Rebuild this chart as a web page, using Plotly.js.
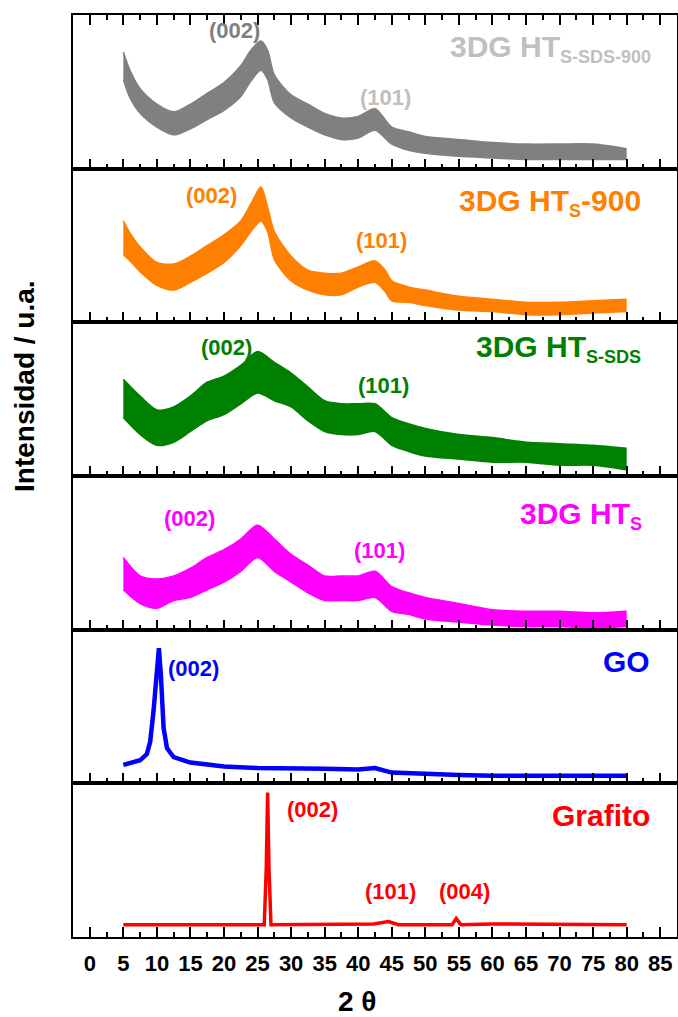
<!DOCTYPE html>
<html><head><meta charset="utf-8">
<script src="https://cdn.plot.ly/plotly-3.0.1.min.js"></script>
<style>html,body{margin:0;padding:0;background:#fff}</style>
</head><body><div id="chart" style="width:678px;height:1017px"></div>
<script>
// ---- Data (2θ in degrees, intensity in arbitrary units per panel, 0-100) ----
const tickVals = [0,5,10,15,20,25,30,35,40,45,50,55,60,65,70,75,80,85];

// 3DG HT S-SDS-900 (gray) : noisy band, lower / upper envelope
const graySdsX  = [5,6,7.5,10,12.5,15,17.5,20,22.5,24,25.5,26.5,27.5,30,32.5,35,37.5,40,42.5,45,47.5,50,55,60,65,70,75,80];
const graySdsLo = [58,46,36,27,22,26,32,38,47,57,64,58,43,33,27,22,19,20,25,16,12,10,8,7,6,6,6,6];
const graySdsHi = [76,64,52,42,37,42,49,56,67,77,83,77,61,48,42,36,33,34,39,27,24,21,19,17,16,16,16,13];

// 3DG HT S-900 (orange)
const orangeX  = [5,6,7.5,10,12.5,15,17.5,20,22.5,24,25.5,26.5,27.5,30,32.5,35,37.5,40,42.5,44,45,47.5,50,55,60,65,70,75,80];
const orangeLo = [44,40,33,24,21,26,32,39,50,59,66,59,41,27,21,18,18,23,26,20,14,13,11,8,7,5,5,6,7];
const orangeHi = [66,58,49,39,38,43,50,57,66,77,88,75,59,43,34,32,32,36,40,34,27,23,21,17,15,13,13,14,15];

// 3DG HT S-SDS (green)
const greenX  = [5,7.5,10,12.5,15,17.5,20,22.5,25,27.5,30,32.5,35,37.5,40,42.5,45,47.5,50,55,60,65,70,75,80];
const greenLo = [38,27,20,22,29,36,40,47,54,49,45,36,29,27,27,29,20,16,13,11,9,9,7,7,4];
const greenHi = [63,52,43,45,52,61,65,72,81,74,67,58,49,47,47,47,38,34,31,27,25,22,21,20,18];

// 3DG HT S (magenta)
const magentaX  = [5,7.5,10,12.5,15,17.5,20,22.5,25,27.5,30,32.5,35,37.5,40,42.5,45,47.5,50,55,60,65,70,75,80];
const magentaLo = [26,17,14,19,21,26,31,38,47,38,31,24,19,19,19,21,12,10,7,5,3,2,2,1,2];
const magentaHi = [47,35,33,35,40,47,52,59,68,59,49,42,35,35,35,38,28,24,21,17,13,12,12,11,12];

// GO (blue)
const goX = [5,7.5,8.5,9,9.5,10,10.3,10.6,11,11.5,12.5,15,20,25,30,35,40,42.5,45,50,55,60,70,80];
const goY = [12,15,19,27,47,72,88,70,36,23,17,13.5,11,10,10,9.5,9,10,7,6,5.5,5,5,5];

// Grafito (red)
const grafX = [5,26.0,26.3,26.5,26.7,27.0,42.3,44.5,46,54,54.6,55.3,59.9,80];
const grafY = [8,8,45,94,45,8,8.5,10,8,8,12,8,8.5,8];

// ---- Chart ----
const FONT = 'Arial, "Liberation Sans", sans-serif';
const traces = [];
function band(x, lo, hi, color, axis){
  traces.push({x:x, y:lo, xaxis:'x'+axis, yaxis:'y'+axis, mode:'lines', line:{color:color,width:1.5,shape:'spline',smoothing:0.8}, hoverinfo:'skip'});
  traces.push({x:x, y:hi, xaxis:'x'+axis, yaxis:'y'+axis, mode:'lines', line:{color:color,width:1.5,shape:'spline',smoothing:0.8}, fill:'tonexty', fillcolor:color, hoverinfo:'skip'});
}
band(graySdsX, graySdsLo, graySdsHi, '#808080', '');
band(orangeX, orangeLo, orangeHi, '#ff8000', '2');
band(greenX, greenLo, greenHi, '#008000', '3');
band(magentaX, magentaLo, magentaHi, '#ff00ff', '4');
traces.push({x:goX, y:goY, xaxis:'x5', yaxis:'y5', mode:'lines', line:{color:'#0000ff',width:4.5}});
traces.push({x:grafX, y:grafY, xaxis:'x6', yaxis:'y6', mode:'lines', line:{color:'#ff0000',width:3.5}});

const layout = {
  width:678, height:1017,
  margin:{l:73, r:1, t:15, b:80},
  paper_bgcolor:'#fff', plot_bgcolor:'#fff',
  showlegend:false,
  font:{family:FONT, color:'#000'},
  annotations:[]
};
for (let i=1;i<=6;i++){
  const s = i===1 ? '' : String(i);
  const top = 1 - (i-1)/6, bot = 1 - i/6;
  layout['xaxis'+s] = {
    range:[-2.5,87.5], anchor:'y'+s, showline:true, linewidth:2, linecolor:'#000',
    ticks:'inside', ticklen:10, tickwidth:2, tickcolor:'#000',
    tickmode:'array', tickvals:tickVals, ticktext:tickVals.map(String),
    minor:{dtick:2.5, tick0:0, ticks:'inside', ticklen:5, tickwidth:2, tickcolor:'#000', showgrid:false},
    showticklabels: i===6, tickfont:{family:FONT, size:22, weight:'bold', color:'#000'},
    ticklabelstandoff: 6,
    mirror: i===1 ? 'ticks' : true, showgrid:false, zeroline:false
  };
  if (i>1) layout['xaxis'+s].matches = 'x';
  layout['yaxis'+s] = {
    domain:[bot, top], range:[0,100], anchor:'x'+s, showline:true, mirror:true, linewidth:2, linecolor:'#000',
    ticks:'', showticklabels:false, showgrid:false, zeroline:false
  };
}
function lab(ax, x, y, text, color, size, xanchor){
  layout.annotations.push({xref:'x'+ax, yref:'y'+ax, x:x, y:y, text:text, showarrow:false,
    xanchor:xanchor||'center', yanchor:'middle', font:{family:FONT, size:size, weight:'bold', color:color}});
}
const SUB = t => '<sub><span style="font-size:18px">' + t + '</span></sub>';
// panel 1
lab('', 21.6, 89.8, '(002)', '#808080', 22);
lab('', 44.0, 46.2, '(101)', '#c0c0c0', 22);
lab('', 83.9, 78.5, '3DG HT' + SUB('S-SDS-900'), '#c0c0c0', 30, 'right');
// panel 2
lab('2', 18.2, 82.4, '(002)', '#ff8000', 22);
lab('2', 43.5, 53.3, '(101)', '#ff8000', 22);
lab('2', 82.4, 78, '3DG HT' + SUB('S') + '-900', '#ff8000', 30, 'right');
// panel 3
lab('3', 20.3, 83.5, '(002)', '#008000', 22);
lab('3', 43.7, 58.7, '(101)', '#008000', 22);
lab('3', 82.4, 83, '3DG HT' + SUB('S-SDS'), '#008000', 30, 'right');
// panel 4
lab('4', 14.9, 72.2, '(002)', '#ff00ff', 22);
lab('4', 43.1, 51.4, '(101)', '#ff00ff', 22);
lab('4', 82.6, 74.5, '3DG HT' + SUB('S'), '#ff00ff', 30, 'right');
// panel 5
lab('5', 15.5, 75, '(002)', '#0000ff', 22);
lab('5', 83.8, 79, 'GO', '#0000ff', 30, 'right');
// panel 6
lab('6', 33.2, 82.8, '(002)', '#ff0000', 22);
lab('6', 44.8, 29.5, '(101)', '#ff0000', 22);
lab('6', 55.9, 29.5, '(004)', '#ff0000', 22);
lab('6', 83.8, 79, 'Grafito', '#ff0000', 30, 'right');
// axis titles
layout.annotations.push({xref:'paper', yref:'paper', x:(357-73)/604, y:(937-1001)/922, text:'2 θ', showarrow:false,
  xanchor:'center', yanchor:'middle', font:{family:FONT, size:28, weight:'bold', color:'#000'}});
layout.annotations.push({xref:'paper', yref:'paper', x:(25-73)/604, y:(937-386)/922, text:'Intensidad / u.a.', showarrow:false,
  textangle:-90, xanchor:'center', yanchor:'middle', font:{family:FONT, size:28, weight:'bold', color:'#000'}});

Plotly.newPlot('chart', traces, layout, {staticPlot:true, displayModeBar:false});
</script></body></html>
